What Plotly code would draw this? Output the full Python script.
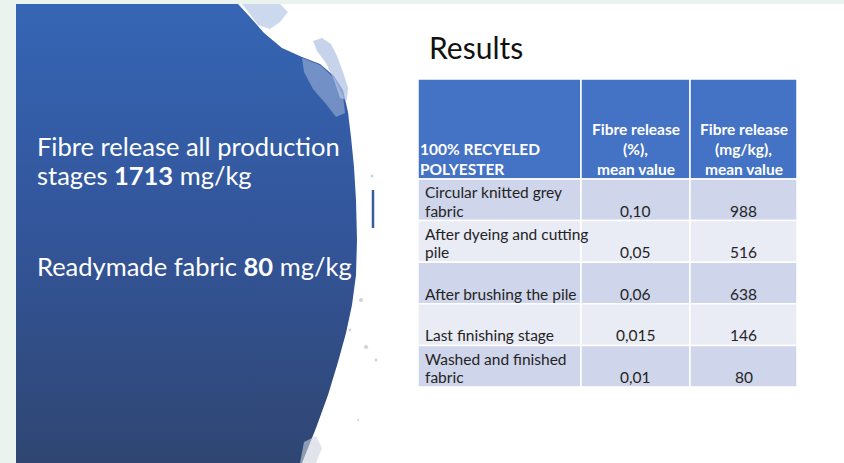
import plotly.graph_objects as go

W, H = 844, 463

# ---- data ----
header_labels = ["100% RECYELED<br>POLYESTER",
                 "Fibre release<br>(%),<br>mean value",
                 "Fibre release<br>(mg/kg),<br>mean value"]
stages = ["Circular knitted grey<br>fabric",
          "After dyeing and cutting<br>pile",
          "After brushing the pile",
          "Last finishing stage",
          "Washed and finished<br>fabric"]
pct_labels = ["0,10", "0,05", "0,06", "0,015", "0,01"]
mg_per_kg = [988, 516, 638, 146, 80]
total_release = 1713
readymade_release = 80

# ---- styling / layout constants ----
HEADER_BLUE = "#4472C4"
ROW_DARK = "#CFD5EA"
ROW_LIGHT = "#E9EBF5"
MINT = "#EAF3EE"
FONT = "Lato"
TXT = "#242424"

col_edges = [418, 581, 690, 797]          # px from left
header_top, header_bottom = 79, 179        # px from top
row_h = 41.6
col_align = ["left", "center", "center"]


def Y(py):
    """top-down pixel -> axis y (bottom-up)"""
    return H - py


fig = go.Figure()


def poly(points, **kw):
    fig.add_trace(go.Scatter(
        x=[p[0] for p in points] + [points[0][0]],
        y=[Y(p[1]) for p in points] + [Y(points[0][1])],
        mode="lines", line=dict(width=0), fill="toself",
        hoverinfo="skip", showlegend=False, **kw))


# ---- decorative blue brush blob ----
blob_px = [(16, 4), (238, 4), (250, 17), (264, 33), (282, 48), (302, 57),
           (320, 64), (334, 76), (343, 90), (348, 112), (351, 137), (354, 167),
           (356, 200), (357, 240), (356, 275), (352, 305), (346, 333),
           (338, 362), (328, 395), (316, 428), (302, 463), (16, 463)]
poly(blob_px, fillgradient=dict(type="vertical", start=0, stop=H,
                                colorscale=[[0, "#2F4672"], [0.5, "#33559A"],
                                            [1, "#3566B5"]]))
# light mottled patches near the edge
poly([(242, 4), (280, 4), (288, 12), (280, 22), (270, 29), (258, 25), (250, 14)],
     fillcolor="rgba(175,195,228,0.65)")
poly([(313, 41), (322, 38), (331, 44), (337, 56), (343, 72), (348, 88),
      (347, 100), (340, 98), (334, 80), (326, 63), (317, 51)],
     fillcolor="rgba(175,193,225,0.7)")
poly([(302, 58), (320, 65), (335, 79), (343, 96), (345, 113), (336, 117),
      (326, 104), (313, 89), (304, 72)],
     fillcolor="rgba(190,205,230,0.45)")
poly([(304, 442), (316, 436), (322, 448), (316, 463), (300, 463)],
     fillcolor="rgba(205,210,220,0.6)")
# small specks / dash
fig.add_trace(go.Scatter(x=[373, 373], y=[Y(190), Y(228)], mode="lines",
                         line=dict(color="#3B5C9C", width=2.5),
                         hoverinfo="skip", showlegend=False))
fig.add_trace(go.Scatter(x=[372, 361, 350, 366, 376, 358],
                         y=[Y(176), Y(300), Y(330), Y(347), Y(360), Y(420)],
                         mode="markers",
                         marker=dict(color="rgba(170,178,192,0.8)", size=[4, 5, 4, 5, 4, 3]),
                         hoverinfo="skip", showlegend=False))

# ---- table (cells as shapes, text as annotations) ----
shapes = []
annotations = []


def add_lines(lines, cx_left, cx_right, align, bottom_center, spacing, font, dx=0):
    n = len(lines)
    for i, line in enumerate(lines):
        yc = bottom_center - (n - 1 - i) * spacing
        if align == "left":
            x, xa = cx_left + dx, "left"
        else:
            x, xa = (cx_left + cx_right) / 2, "center"
        annotations.append(dict(text=line, x=x, y=Y(yc), xref="x", yref="y",
                                xanchor=xa, yanchor="middle", showarrow=False,
                                font=font))


hdr_font = dict(family=FONT, size=15.5, color="white")
cell_font = dict(family=FONT, size=15.5, color=TXT)

for j in range(3):
    x0, x1 = col_edges[j], col_edges[j + 1]
    shapes.append(dict(type="rect", xref="x", yref="y", x0=x0, x1=x1,
                       y0=Y(header_bottom), y1=Y(header_top),
                       fillcolor=HEADER_BLUE, line=dict(color="white", width=1.5),
                       layer="below"))
    add_lines(["<b>%s</b>" % s for s in header_labels[j].split("<br>")],
              x0, x1, col_align[j], header_bottom - 10.5, 20, hdr_font, dx=0)

columns = [stages, pct_labels, [str(v) for v in mg_per_kg]]
for i in range(len(stages)):
    top = header_bottom + i * row_h
    bottom = top + row_h
    fill = ROW_DARK if i % 2 == 0 else ROW_LIGHT
    for j in range(3):
        x0, x1 = col_edges[j], col_edges[j + 1]
        shapes.append(dict(type="rect", xref="x", yref="y", x0=x0, x1=x1,
                           y0=Y(bottom), y1=Y(top), fillcolor=fill,
                           line=dict(color="white", width=1.5), layer="below"))
        add_lines(columns[j][i].split("<br>"), x0, x1, col_align[j],
                  bottom - 10, 18.3, cell_font, dx=5)

# ---- slide texts ----
big = dict(family=FONT, size=25.5, color="white")
annotations += [
    dict(text="Results", x=427, y=Y(47), xanchor="left", yanchor="middle",
         font=dict(family=FONT, size=30, color="#111111")),
    dict(text="Fibre release all production", x=35, y=Y(146), xanchor="left",
         yanchor="middle", font=big),
    dict(text="stages <b>%d</b> mg/kg" % total_release, x=35, y=Y(175),
         xanchor="left", yanchor="middle", font=big),
    dict(text="Readymade fabric <b>%d</b> mg/kg" % readymade_release, x=35, y=Y(266),
         xanchor="left", yanchor="middle", font=big),
]
for a in annotations[-4:]:
    a.update(xref="x", yref="y", showarrow=False)

shapes += [
    dict(type="rect", xref="paper", yref="paper", x0=0, x1=16 / W, y0=0, y1=1,
         fillcolor=MINT, line=dict(width=0), layer="above"),
    dict(type="rect", xref="paper", yref="paper", x0=0, x1=1, y0=1 - 4 / H, y1=1,
         fillcolor=MINT, line=dict(width=0), layer="above"),
]

fig.update_layout(
    width=W, height=H,
    margin=dict(l=0, r=0, t=0, b=0),
    paper_bgcolor="white", plot_bgcolor="rgba(0,0,0,0)",
    xaxis=dict(range=[0, W], visible=False, fixedrange=True),
    yaxis=dict(range=[0, H], visible=False, fixedrange=True),
    showlegend=False,
    annotations=annotations,
    shapes=shapes,
)

fig.write_html("out.html")
